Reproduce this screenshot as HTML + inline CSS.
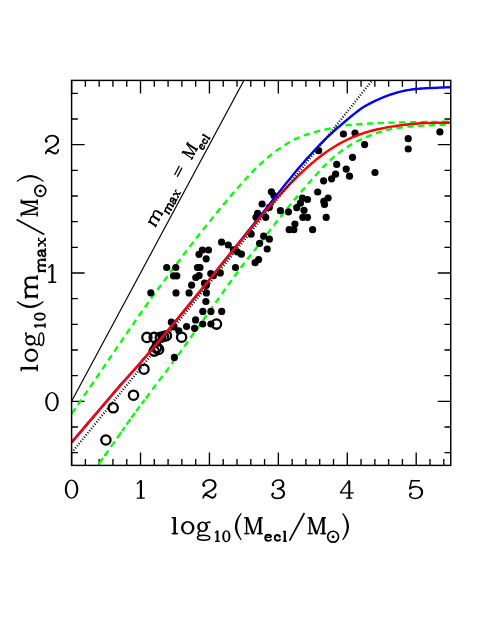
<!DOCTYPE html><html><head><meta charset="utf-8"><style>html,body{margin:0;padding:0;background:#fff}body{width:491px;height:635px;overflow:hidden;font-family:"Liberation Serif",serif}</style></head><body><svg width="491" height="635" viewBox="0 0 491 635" style="display:block">
<rect width="491" height="635" fill="#fff"/>
<defs><clipPath id="c"><rect x="71.6" y="80.4" width="379.15" height="385.0"/></clipPath></defs>
<path d="M71.60,465.4v-13.0M71.60,80.4v13.0M85.38,465.4v-6.3M85.38,80.4v6.3M99.17,465.4v-6.3M99.17,80.4v6.3M112.95,465.4v-6.3M112.95,80.4v6.3M126.74,465.4v-6.3M126.74,80.4v6.3M140.52,465.4v-13.0M140.52,80.4v13.0M154.30,465.4v-6.3M154.30,80.4v6.3M168.09,465.4v-6.3M168.09,80.4v6.3M181.87,465.4v-6.3M181.87,80.4v6.3M195.66,465.4v-6.3M195.66,80.4v6.3M209.44,465.4v-13.0M209.44,80.4v13.0M223.22,465.4v-6.3M223.22,80.4v6.3M237.01,465.4v-6.3M237.01,80.4v6.3M250.79,465.4v-6.3M250.79,80.4v6.3M264.58,465.4v-6.3M264.58,80.4v6.3M278.36,465.4v-13.0M278.36,80.4v13.0M292.14,465.4v-6.3M292.14,80.4v6.3M305.93,465.4v-6.3M305.93,80.4v6.3M319.71,465.4v-6.3M319.71,80.4v6.3M333.50,465.4v-6.3M333.50,80.4v6.3M347.28,465.4v-13.0M347.28,80.4v13.0M361.06,465.4v-6.3M361.06,80.4v6.3M374.85,465.4v-6.3M374.85,80.4v6.3M388.63,465.4v-6.3M388.63,80.4v6.3M402.42,465.4v-6.3M402.42,80.4v6.3M416.20,465.4v-13.0M416.20,80.4v13.0M429.98,465.4v-6.3M429.98,80.4v6.3M443.77,465.4v-6.3M443.77,80.4v6.3M71.6,452.63h6.3M450.75,452.63h-6.3M71.6,426.97h6.3M450.75,426.97h-6.3M71.6,401.30h13.0M450.75,401.30h-13.0M71.6,375.63h6.3M450.75,375.63h-6.3M71.6,349.97h6.3M450.75,349.97h-6.3M71.6,324.30h6.3M450.75,324.30h-6.3M71.6,298.64h6.3M450.75,298.64h-6.3M71.6,272.97h13.0M450.75,272.97h-13.0M71.6,247.30h6.3M450.75,247.30h-6.3M71.6,221.64h6.3M450.75,221.64h-6.3M71.6,195.97h6.3M450.75,195.97h-6.3M71.6,170.31h6.3M450.75,170.31h-6.3M71.6,144.64h13.0M450.75,144.64h-13.0M71.6,118.97h6.3M450.75,118.97h-6.3M71.6,93.31h6.3M450.75,93.31h-6.3" stroke="#000" stroke-width="1.35" fill="none"/>
<g clip-path="url(#c)" fill="none">
<path d="M71.70,413.60 L73.70,410.74 L75.70,407.87 L77.70,404.99 L79.70,402.12 L81.70,399.24 L83.70,396.35 L85.70,393.46 L87.70,390.57 L89.70,387.67 L91.70,384.76 L93.70,381.85 L95.70,378.93 L97.70,376.00 L99.70,373.06 L101.70,370.11 L103.70,367.15 L105.70,364.18 L107.70,361.22 L109.70,358.26 L111.70,355.29 L113.70,352.34 L115.70,349.39 L117.70,346.45 L119.70,343.52 L121.70,340.60 L123.70,337.70 L125.70,334.81 L127.70,331.93 L129.70,329.06 L131.70,326.18 L133.70,323.32 L135.70,320.45 L137.70,317.60 L139.70,314.75 L141.70,311.90 L143.70,309.07 L145.70,306.24 L147.70,303.43 L149.70,300.62 L151.70,297.83 L153.70,295.05 L155.70,292.28 L157.70,289.52 L159.70,286.78 L161.70,284.05 L163.70,281.32 L165.70,278.61 L167.70,275.90 L169.70,273.20 L171.70,270.51 L173.70,267.83 L175.70,265.16 L177.70,262.49 L179.70,259.84 L181.70,257.19 L183.70,254.56 L185.70,251.93 L187.70,249.32 L189.70,246.72 L191.70,244.13 L193.70,241.55 L195.70,238.99 L197.70,236.44 L199.70,233.90 L201.70,231.38 L203.70,228.87 L205.70,226.37 L207.70,223.87 L209.70,221.39 L211.70,218.91 L213.70,216.44 L215.70,213.98 L217.70,211.53 L219.70,209.10 L221.70,206.68 L223.70,204.27 L225.70,201.89 L227.70,199.52 L229.70,197.17 L231.70,194.84 L233.70,192.53 L235.70,190.24 L237.70,187.97 L239.70,185.73 L241.70,183.51 L243.70,181.29 L245.70,179.07 L247.70,176.88 L249.70,174.72 L251.70,172.59 L253.70,170.51 L255.70,168.49 L257.70,166.53 L259.70,164.64 L261.70,162.82 L263.70,161.04 L265.70,159.28 L267.70,157.57 L269.70,155.89 L271.70,154.27 L273.70,152.70 L275.70,151.19 L277.70,149.74 L279.70,148.36 L281.70,147.05 L283.70,145.77 L285.70,144.51 L287.70,143.29 L289.70,142.11 L291.70,140.98 L293.70,139.90 L295.70,138.88 L297.70,137.94 L299.70,137.06 L301.70,136.27 L303.70,135.53 L305.70,134.84 L307.70,134.19 L309.70,133.57 L311.70,132.98 L313.70,132.42 L315.70,131.88 L317.70,131.36 L319.70,130.85 L321.70,130.35 L323.70,129.88 L325.70,129.44 L327.70,129.01 L329.70,128.60 L331.70,128.18 L333.70,127.74 L335.70,127.28 L337.70,126.83 L339.70,126.41 L341.70,126.03 L343.70,125.73 L345.70,125.47 L347.70,125.23 L349.70,125.01 L351.70,124.81 L353.70,124.63 L355.70,124.46 L357.70,124.31 L359.70,124.16 L361.70,124.02 L363.70,123.88 L365.70,123.75 L367.70,123.63 L369.70,123.51 L371.70,123.40 L373.70,123.29 L375.70,123.19 L377.70,123.10 L379.70,123.02 L381.70,122.94 L383.70,122.88 L385.70,122.82 L387.70,122.76 L389.70,122.71 L391.70,122.66 L393.70,122.62 L395.70,122.57 L397.70,122.53 L399.70,122.49 L401.70,122.45 L403.70,122.41 L405.70,122.37 L407.70,122.33 L409.70,122.29 L411.70,122.25 L413.70,122.21 L415.70,122.16 L417.70,122.12 L419.70,122.08 L421.70,122.04 L423.70,122.00 L425.70,121.96 L427.70,121.93 L429.70,121.90 L431.70,121.88 L433.70,121.85 L435.70,121.83 L437.70,121.81 L439.70,121.79 L441.70,121.77 L443.70,121.75 L445.70,121.73 L447.70,121.72 L449.70,121.71 L450.80,121.70" stroke="#00ff00" stroke-width="2.3" stroke-dasharray="6.3 4.45"/>
<path d="M98.10,464.90 L100.10,462.09 L102.10,459.29 L104.10,456.48 L106.10,453.66 L108.10,450.85 L110.10,448.02 L112.10,445.19 L114.10,442.35 L116.10,439.49 L118.10,436.63 L120.10,433.77 L122.10,430.92 L124.10,428.07 L126.10,425.24 L128.10,422.42 L130.10,419.63 L132.10,416.87 L134.10,414.12 L136.10,411.39 L138.10,408.67 L140.10,405.97 L142.10,403.27 L144.10,400.58 L146.10,397.90 L148.10,395.22 L150.10,392.54 L152.10,389.86 L154.10,387.20 L156.10,384.55 L158.10,381.91 L160.10,379.27 L162.10,376.63 L164.10,373.99 L166.10,371.34 L168.10,368.68 L170.10,365.99 L172.10,363.29 L174.10,360.56 L176.10,357.82 L178.10,355.07 L180.10,352.30 L182.10,349.53 L184.10,346.74 L186.10,343.95 L188.10,341.16 L190.10,338.36 L192.10,335.56 L194.10,332.75 L196.10,329.95 L198.10,327.15 L200.10,324.36 L202.10,321.57 L204.10,318.78 L206.10,315.99 L208.10,313.19 L210.10,310.38 L212.10,307.57 L214.10,304.75 L216.10,301.92 L218.10,299.10 L220.10,296.28 L222.10,293.46 L224.10,290.65 L226.10,287.85 L228.10,285.06 L230.10,282.28 L232.10,279.51 L234.10,276.77 L236.10,274.04 L238.10,271.34 L240.10,268.66 L242.10,266.01 L244.10,263.40 L246.10,260.82 L248.10,258.28 L250.10,255.75 L252.10,253.22 L254.10,250.70 L256.10,248.15 L258.10,245.59 L260.10,243.01 L262.10,240.43 L264.10,237.84 L266.10,235.26 L268.10,232.68 L270.10,230.11 L272.10,227.55 L274.10,224.98 L276.10,222.42 L278.10,219.88 L280.10,217.35 L282.10,214.85 L284.10,212.35 L286.10,209.85 L288.10,207.37 L290.10,204.91 L292.10,202.47 L294.10,200.05 L296.10,197.66 L298.10,195.31 L300.10,193.02 L302.10,190.76 L304.10,188.51 L306.10,186.23 L308.10,183.91 L310.10,181.56 L312.10,179.22 L314.10,176.94 L316.10,174.72 L318.10,172.54 L320.10,170.41 L322.10,168.32 L324.10,166.26 L326.10,164.22 L328.10,162.24 L330.10,160.35 L332.10,158.56 L334.10,156.85 L336.10,155.20 L338.10,153.62 L340.10,152.09 L342.10,150.60 L344.10,149.17 L346.10,147.80 L348.10,146.48 L350.10,145.21 L352.10,143.99 L354.10,142.84 L356.10,141.78 L358.10,140.78 L360.10,139.84 L362.10,138.93 L364.10,138.05 L366.10,137.18 L368.10,136.35 L370.10,135.56 L372.10,134.78 L374.10,134.01 L376.10,133.25 L378.10,132.53 L380.10,131.85 L382.10,131.25 L384.10,130.71 L386.10,130.21 L388.10,129.75 L390.10,129.31 L392.10,128.91 L394.10,128.54 L396.10,128.22 L398.10,127.92 L400.10,127.64 L402.10,127.38 L404.10,127.15 L406.10,126.93 L408.10,126.72 L410.10,126.54 L412.10,126.36 L414.10,126.19 L416.10,126.03 L418.10,125.88 L420.10,125.75 L422.10,125.63 L424.10,125.53 L426.10,125.45 L428.10,125.37 L430.10,125.30 L432.10,125.23 L434.10,125.17 L436.10,125.10 L438.10,125.03 L440.10,124.96 L442.10,124.89 L444.10,124.82 L446.10,124.75 L448.10,124.69 L450.10,124.62 L450.80,124.60" stroke="#00ff00" stroke-width="2.3" stroke-dasharray="8.3 2.6 6.8 4.4 6.8 3.8 7.5 1.5 4.6 3.0 6.7 1.7 6.0 2.2 6.1 2.9 5.3 1.8 6.3 4.45 6.3 4.45 6.3 4.45 6.3 4.45 6.3 4.45 6.3 4.45 6.3 4.45 6.3 4.45 6.3 4.45 6.3 4.45 6.3 4.45 6.3 4.45 6.3 4.45 6.3 4.45 6.3 4.45 6.3 4.45 6.3 4.45 6.3 4.45 6.3 4.45 6.3 4.45 6.3 4.45 6.3 4.45 6.3 4.45 6.3 4.45 6.3 4.45 6.3 4.45 6.3 4.45 6.3 4.45 6.3 4.45 6.3 4.45 6.3 4.45 6.3 4.45 6.3 4.45 6.3 4.45 6.3 4.45 6.3 4.45 6.3 4.45 6.3 4.45 6.3 4.45 6.3 4.45 6.3 4.45 6.3 4.45 6.3 4.45 6.3 4.45 6.3 4.45 6.3 4.45 6.3 4.45 6.3 4.45 6.3 4.45 6.3 4.45 6.3 4.45 6.3 4.45 6.3 4.45 6.3 4.45 6.3 4.45 6.3 4.45 6.3 4.45 6.3 4.45 6.3 4.45 6.3 4.45"/>
<circle cx="150.8" cy="292.8" r="3.6" fill="#000"/>
<circle cx="166.7" cy="267.5" r="3.6" fill="#000"/>
<circle cx="175.8" cy="267.5" r="3.6" fill="#000"/>
<circle cx="173.5" cy="275.8" r="3.6" fill="#000"/>
<circle cx="176.8" cy="275.8" r="3.6" fill="#000"/>
<circle cx="176" cy="292.9" r="3.6" fill="#000"/>
<circle cx="189.1" cy="292.9" r="3.6" fill="#000"/>
<circle cx="191.6" cy="285.1" r="3.6" fill="#000"/>
<circle cx="195.8" cy="277.5" r="3.6" fill="#000"/>
<circle cx="199.1" cy="275.6" r="3.6" fill="#000"/>
<circle cx="197.5" cy="267.5" r="3.6" fill="#000"/>
<circle cx="200" cy="267.5" r="3.6" fill="#000"/>
<circle cx="199" cy="254.3" r="3.6" fill="#000"/>
<circle cx="202.4" cy="250" r="3.6" fill="#000"/>
<circle cx="208.5" cy="250" r="3.6" fill="#000"/>
<circle cx="206.2" cy="258.8" r="3.6" fill="#000"/>
<circle cx="204.5" cy="283.2" r="3.6" fill="#000"/>
<circle cx="206.4" cy="285.3" r="3.6" fill="#000"/>
<circle cx="210.8" cy="273.6" r="3.6" fill="#000"/>
<circle cx="213.4" cy="275.7" r="3.6" fill="#000"/>
<circle cx="220.3" cy="272.9" r="3.6" fill="#000"/>
<circle cx="221.6" cy="242.2" r="3.6" fill="#000"/>
<circle cx="228.3" cy="245" r="3.6" fill="#000"/>
<circle cx="233.3" cy="249.8" r="3.6" fill="#000"/>
<circle cx="237.4" cy="252" r="3.6" fill="#000"/>
<circle cx="241.4" cy="254.2" r="3.6" fill="#000"/>
<circle cx="235.5" cy="267.5" r="3.6" fill="#000"/>
<circle cx="206.4" cy="292.9" r="3.6" fill="#000"/>
<circle cx="205.9" cy="301.5" r="3.6" fill="#000"/>
<circle cx="202.8" cy="311.4" r="3.6" fill="#000"/>
<circle cx="210.9" cy="311.4" r="3.6" fill="#000"/>
<circle cx="221.7" cy="311.4" r="3.6" fill="#000"/>
<circle cx="195.6" cy="319.9" r="3.6" fill="#000"/>
<circle cx="202.7" cy="324" r="3.6" fill="#000"/>
<circle cx="210.9" cy="324" r="3.6" fill="#000"/>
<circle cx="186.6" cy="326.5" r="3.6" fill="#000"/>
<circle cx="194.6" cy="328.3" r="3.6" fill="#000"/>
<circle cx="171.4" cy="322.2" r="3.6" fill="#000"/>
<circle cx="174" cy="327" r="3.6" fill="#000"/>
<circle cx="178.8" cy="330.8" r="3.6" fill="#000"/>
<circle cx="174.4" cy="357.4" r="3.6" fill="#000"/>
<circle cx="163" cy="335" r="3.6" fill="#000"/>
<circle cx="155.8" cy="343.7" r="3.6" fill="#000"/>
<circle cx="271.4" cy="191.8" r="3.6" fill="#000"/>
<circle cx="273.9" cy="195.5" r="3.6" fill="#000"/>
<circle cx="262.1" cy="204" r="3.6" fill="#000"/>
<circle cx="269.4" cy="207.3" r="3.6" fill="#000"/>
<circle cx="257.6" cy="213.4" r="3.6" fill="#000"/>
<circle cx="256" cy="217.3" r="3.6" fill="#000"/>
<circle cx="265.7" cy="217.3" r="3.6" fill="#000"/>
<circle cx="280.4" cy="210.7" r="3.6" fill="#000"/>
<circle cx="288.5" cy="211.8" r="3.6" fill="#000"/>
<circle cx="296.7" cy="207.7" r="3.6" fill="#000"/>
<circle cx="300.4" cy="203.2" r="3.6" fill="#000"/>
<circle cx="302.4" cy="198.1" r="3.6" fill="#000"/>
<circle cx="307.5" cy="199.5" r="3.6" fill="#000"/>
<circle cx="304" cy="210.3" r="3.6" fill="#000"/>
<circle cx="302.8" cy="217.3" r="3.6" fill="#000"/>
<circle cx="307.5" cy="217.3" r="3.6" fill="#000"/>
<circle cx="317.7" cy="192" r="3.6" fill="#000"/>
<circle cx="323.6" cy="180.8" r="3.6" fill="#000"/>
<circle cx="323.8" cy="201.4" r="3.6" fill="#000"/>
<circle cx="324.5" cy="204.4" r="3.6" fill="#000"/>
<circle cx="326.2" cy="217.4" r="3.6" fill="#000"/>
<circle cx="294.9" cy="224" r="3.6" fill="#000"/>
<circle cx="289.2" cy="229.7" r="3.6" fill="#000"/>
<circle cx="293.8" cy="229.7" r="3.6" fill="#000"/>
<circle cx="312.6" cy="229.7" r="3.6" fill="#000"/>
<circle cx="251.1" cy="234.2" r="3.6" fill="#000"/>
<circle cx="263.7" cy="236.2" r="3.6" fill="#000"/>
<circle cx="269.4" cy="239.2" r="3.6" fill="#000"/>
<circle cx="259.6" cy="243.3" r="3.6" fill="#000"/>
<circle cx="267.2" cy="249" r="3.6" fill="#000"/>
<circle cx="258.6" cy="259.6" r="3.6" fill="#000"/>
<circle cx="255.1" cy="262.7" r="3.6" fill="#000"/>
<circle cx="343.4" cy="134" r="3.6" fill="#000"/>
<circle cx="355" cy="133" r="3.6" fill="#000"/>
<circle cx="364.6" cy="144.6" r="3.6" fill="#000"/>
<circle cx="318.7" cy="150.7" r="3.6" fill="#000"/>
<circle cx="352.5" cy="157.3" r="3.6" fill="#000"/>
<circle cx="336.7" cy="164.4" r="3.6" fill="#000"/>
<circle cx="346.2" cy="169.1" r="3.6" fill="#000"/>
<circle cx="375" cy="172.5" r="3.6" fill="#000"/>
<circle cx="335.6" cy="174.2" r="3.6" fill="#000"/>
<circle cx="349.5" cy="176.2" r="3.6" fill="#000"/>
<circle cx="331.6" cy="178.8" r="3.6" fill="#000"/>
<circle cx="328.1" cy="198" r="3.6" fill="#000"/>
<circle cx="408.2" cy="138.7" r="3.6" fill="#000"/>
<circle cx="408.2" cy="149" r="3.6" fill="#000"/>
<circle cx="439.9" cy="131.9" r="3.6" fill="#000"/>
<circle cx="162.5" cy="336.3" r="3.6" fill="#000"/>
<circle cx="105.9" cy="440" r="4.65" stroke="#000" stroke-width="2.3"/>
<circle cx="113.2" cy="407.8" r="4.65" stroke="#000" stroke-width="2.3"/>
<circle cx="133.5" cy="395.2" r="4.65" stroke="#000" stroke-width="2.3"/>
<circle cx="144" cy="369.2" r="4.65" stroke="#000" stroke-width="2.3"/>
<circle cx="146.9" cy="337.4" r="4.65" stroke="#000" stroke-width="2.3"/>
<circle cx="154.2" cy="337.4" r="4.65" stroke="#000" stroke-width="2.3"/>
<circle cx="160.3" cy="337.4" r="4.65" stroke="#000" stroke-width="2.3"/>
<circle cx="166.4" cy="335.7" r="4.65" stroke="#000" stroke-width="2.3"/>
<circle cx="181.6" cy="337.2" r="4.65" stroke="#000" stroke-width="2.3"/>
<circle cx="158.6" cy="349.4" r="4.65" stroke="#000" stroke-width="2.3"/>
<circle cx="154.2" cy="351.1" r="4.65" stroke="#000" stroke-width="2.3"/>
<circle cx="216.5" cy="324.1" r="4.65" stroke="#000" stroke-width="2.3"/>
<circle cx="163.5" cy="336.5" r="4.65" stroke="#000" stroke-width="2.3"/>
<circle cx="156.6" cy="347.6" r="4.65" stroke="#000" stroke-width="2.3"/>
<path d="M71.60,401.30 L250.79,67.64" stroke="#000" stroke-width="1.15"/>
<path d="M71.60,442.40 L73.60,440.05 L75.60,437.71 L77.60,435.36 L79.60,433.02 L81.60,430.67 L83.60,428.33 L85.60,425.98 L87.60,423.64 L89.60,421.29 L91.60,418.95 L93.60,416.60 L95.60,414.26 L97.60,411.91 L99.60,409.57 L101.60,407.22 L103.60,404.88 L105.60,402.53 L107.60,400.19 L109.60,397.84 L111.60,395.50 L113.60,393.15 L115.60,390.81 L117.60,388.46 L119.60,386.12 L121.60,383.77 L123.60,381.66 L125.60,379.45 L127.60,377.23 L129.60,375.00 L131.60,372.75 L133.60,370.50 L135.60,368.23 L137.60,365.96 L139.60,363.67 L141.60,361.38 L143.60,359.08 L145.60,356.76 L147.60,354.44 L149.60,352.11 L151.60,349.77 L153.60,347.42 L155.60,345.07 L157.60,342.71 L159.60,340.33 L161.60,337.96 L163.60,335.57 L165.60,333.18 L167.60,330.78 L169.60,328.38 L171.60,325.97 L173.60,323.55 L175.60,321.12 L177.60,318.70 L179.60,316.26 L181.60,313.82 L183.60,311.38 L185.60,308.92 L187.60,306.47 L189.60,304.01 L191.60,301.55 L193.60,299.08 L195.60,296.61 L197.60,294.13 L199.60,291.65 L201.60,289.17 L203.60,286.68 L205.60,284.19 L207.60,281.70 L209.60,279.21 L211.60,276.71 L213.60,274.21 L215.60,271.71 L217.60,269.21 L219.60,266.71 L221.60,264.21 L223.60,261.70 L225.60,259.20 L227.60,256.69 L229.60,254.19 L231.60,251.69 L233.60,249.18 L235.60,246.68 L237.60,244.18 L239.60,241.68 L241.60,239.18 L243.60,236.69 L245.60,234.20 L247.60,231.72 L249.60,229.23 L251.60,226.73 L253.60,224.21 L255.60,221.70 L257.60,219.18 L259.60,216.67 L261.60,214.16 L263.60,211.65 L265.60,209.14 L267.60,206.63 L269.60,204.13 L271.60,201.62 L273.60,199.12 L275.60,196.61 L277.60,194.11 L279.60,191.61 L281.60,189.11 L283.60,186.61 L285.60,184.12 L287.60,181.62 L289.60,179.13 L291.60,176.64 L293.60,174.15 L295.60,171.70 L297.60,169.36 L299.60,167.03 L301.60,164.72 L303.60,162.43 L305.60,160.16 L307.60,157.91 L309.60,155.68 L311.60,153.47 L313.60,151.29 L315.60,149.14 L317.60,147.01 L319.60,144.91 L321.60,142.84 L323.60,140.84 L325.60,138.88 L327.60,136.97 L329.60,135.10 L331.60,133.26 L333.60,131.46 L335.60,129.68 L337.60,127.93 L339.60,126.19 L341.60,124.45 L343.60,122.72 L345.60,120.99 L347.60,119.29 L349.60,117.63 L351.60,116.01 L353.60,114.42 L355.60,112.84 L357.60,111.29 L359.60,109.79 L361.60,108.36 L363.60,107.05 L365.60,105.84 L367.60,104.71 L369.60,103.63 L371.60,102.59 L373.60,101.61 L375.60,100.65 L377.60,99.74 L379.60,98.84 L381.60,98.00 L383.60,97.20 L385.60,96.40 L387.60,95.68 L389.60,94.95 L391.60,94.26 L393.60,93.63 L395.60,92.99 L397.60,92.40 L399.60,91.87 L401.60,91.34 L403.60,90.86 L405.60,90.47 L407.60,90.14 L409.60,89.83 L411.60,89.53 L413.60,89.24 L415.60,89.06 L417.60,88.89 L419.60,88.70 L421.60,88.51 L423.60,88.34 L425.60,88.18 L427.60,88.09 L429.60,88.05 L431.60,88.00 L433.60,87.93 L435.60,87.85 L437.60,87.76 L439.60,87.66 L441.60,87.56 L443.60,87.46 L445.60,87.34 L447.60,87.22 L450.75,87.24" stroke="#0000ff" stroke-width="2.4"/>
<path d="M71.60,442.40 L73.60,440.05 L75.60,437.71 L77.60,435.36 L79.60,433.02 L81.60,430.67 L83.60,428.33 L85.60,425.98 L87.60,423.64 L89.60,421.29 L91.60,418.95 L93.60,416.60 L95.60,414.26 L97.60,411.91 L99.60,409.57 L101.60,407.22 L103.60,404.88 L105.60,402.53 L107.60,400.19 L109.60,397.84 L111.60,395.50 L113.60,393.15 L115.60,390.81 L117.60,388.46 L119.60,386.12 L121.60,383.77 L123.60,381.68 L125.60,379.47 L127.60,377.25 L129.60,375.02 L131.60,372.78 L133.60,370.53 L135.60,368.26 L137.60,365.99 L139.60,363.71 L141.60,361.41 L143.60,359.11 L145.60,356.80 L147.60,354.48 L149.60,352.15 L151.60,349.82 L153.60,347.47 L155.60,345.12 L157.60,342.76 L159.60,340.40 L161.60,338.02 L163.60,335.64 L165.60,333.25 L167.60,330.86 L169.60,328.46 L171.60,326.05 L173.60,323.64 L175.60,321.22 L177.60,318.80 L179.60,316.37 L181.60,313.94 L183.60,311.50 L185.60,309.06 L187.60,306.61 L189.60,304.16 L191.60,301.71 L193.60,299.25 L195.60,296.79 L197.60,294.32 L199.60,291.86 L201.60,289.39 L203.60,286.91 L205.60,284.44 L207.60,281.97 L209.60,279.49 L211.60,277.01 L213.60,274.53 L215.60,272.05 L217.60,269.57 L219.60,267.09 L221.60,264.61 L223.60,262.14 L225.60,259.66 L227.60,257.18 L229.60,254.71 L231.60,252.24 L233.60,249.77 L235.60,247.31 L237.60,244.85 L239.60,242.39 L241.60,239.94 L243.60,237.49 L245.60,235.06 L247.60,232.62 L249.60,230.20 L251.60,227.78 L253.60,225.37 L255.60,222.97 L257.60,220.59 L259.60,218.21 L261.60,215.84 L263.60,213.49 L265.60,211.15 L267.60,208.83 L269.60,206.52 L271.60,204.22 L273.60,201.95 L275.60,199.69 L277.60,197.45 L279.60,195.24 L281.60,193.04 L283.60,190.87 L285.60,188.72 L287.60,186.60 L289.60,184.50 L291.60,182.43 L293.60,180.39 L295.60,178.38 L297.60,176.40 L299.60,174.46 L301.60,172.54 L303.60,170.66 L305.60,168.82 L307.60,167.01 L309.60,165.24 L311.60,163.51 L313.60,161.82 L315.60,160.16 L317.60,158.55 L319.60,156.98 L321.60,155.45 L323.60,153.96 L325.60,152.52 L327.60,151.13 L329.60,149.77 L331.60,148.45 L333.60,147.19 L335.60,145.97 L337.60,144.78 L339.60,143.64 L341.60,142.55 L343.60,141.48 L345.60,140.49 L347.60,139.51 L349.60,138.59 L351.60,137.69 L353.60,136.85 L355.60,136.02 L357.60,135.26 L359.60,134.50 L361.60,133.81 L363.60,133.14 L365.60,132.48 L367.60,131.90 L369.60,131.32 L371.60,130.74 L373.60,130.26 L375.60,129.77 L377.60,129.29 L379.60,128.84 L381.60,128.45 L383.60,128.06 L385.60,127.66 L387.60,127.26 L389.60,126.93 L391.60,126.63 L393.60,126.32 L395.60,126.01 L397.60,125.70 L399.60,125.39 L401.60,125.11 L403.60,124.91 L405.60,124.70 L407.60,124.50 L409.60,124.30 L411.60,124.09 L413.60,123.89 L415.60,123.69 L417.60,123.50 L419.60,123.31 L421.60,123.12 L423.60,123.02 L425.60,122.98 L427.60,122.95 L429.60,122.92 L431.60,122.90 L433.60,122.87 L435.60,122.85 L437.60,122.83 L439.60,122.80 L441.60,122.78 L443.60,122.75 L445.60,122.73 L447.60,122.71 L450.75,122.67" stroke="#ff0000" stroke-width="2.4"/>
<path d="M71.70,452.60 L74.70,448.94 L77.70,445.27 L80.70,441.61 L83.70,437.94 L86.70,434.27 L89.70,430.61 L92.70,426.94 L95.70,423.27 L98.70,419.59 L101.70,415.92 L104.70,412.25 L107.70,408.57 L110.70,404.90 L113.70,401.22 L116.70,397.54 L119.70,393.86 L122.70,390.18 L125.70,386.50 L128.70,382.82 L131.70,379.14 L134.70,375.45 L137.70,371.77 L140.70,368.08 L143.70,364.39 L146.70,360.70 L149.70,357.01 L152.70,353.32 L155.70,349.63 L158.70,345.94 L161.70,342.24 L164.70,338.55 L167.70,334.85 L170.70,331.15 L173.70,327.45 L176.70,323.75 L179.70,320.05 L182.70,316.35 L185.70,312.65 L188.70,308.95 L191.70,305.24 L194.70,301.53 L197.70,297.83 L200.70,294.12 L203.70,290.41 L206.70,286.70 L209.70,282.99 L212.70,279.27 L215.70,275.56 L218.70,271.85 L221.70,268.13 L224.70,264.41 L227.70,260.70 L230.70,256.98 L233.70,253.26 L236.70,249.53 L239.70,245.81 L242.70,242.09 L245.70,238.36 L248.70,234.64 L251.70,230.91 L254.70,227.18 L257.70,223.46 L260.70,219.73 L263.70,215.99 L266.70,212.26 L269.70,208.53 L272.70,204.80 L275.70,201.06 L278.70,197.32 L281.70,193.59 L284.70,189.85 L287.70,186.11 L290.70,182.37 L293.70,178.63 L296.70,174.88 L299.70,171.14 L302.70,167.39 L305.70,163.65 L308.70,159.90 L311.70,156.15 L314.70,152.40 L317.70,148.65 L320.70,144.90 L323.70,141.15 L326.70,137.39 L329.70,133.64 L332.70,129.88 L335.70,126.13 L338.70,122.37 L341.70,118.61 L344.70,114.85 L347.70,111.09 L350.70,107.33 L353.70,103.56 L356.70,99.80 L359.70,96.03 L362.70,92.27 L365.70,88.50 L368.70,84.73 L371.70,80.96 L374.70,77.19 L377.70,73.42 L380.70,69.64" stroke="#000" stroke-width="2.3" stroke-dasharray="0.95 1.85"/>
</g>
<rect x="71.6" y="80.4" width="379.15" height="385.0" fill="none" stroke="#000" stroke-width="1.45"/>
<g transform="translate(71.60,474.00) scale(0.08143) translate(-241.9,0)" fill="none" stroke="#000"><path fill-rule="evenodd" d="M158,186.5a83.5,118.5 0 1,0 167,0a83.5,118.5 0 1,0 -167,0zM184,186.5a57.5,103.5 0 1,1 115,0a57.5,103.5 0 1,1 -115,0z" fill="#000" stroke="none"/></g>
<g transform="translate(140.52,474.00) scale(0.08143) translate(-253.3,0)" fill="none" stroke="#000"><path d="M258,76V297" stroke-width="27"/><path d="M256,80L210,122M208,297H305" stroke-width="16"/></g>
<g transform="translate(209.44,474.00) scale(0.08143) translate(-178.8,0)" fill="none" stroke="#000"><circle cx="112" cy="138" r="15" fill="#000" stroke="none"/><path d="M110,150C98,138 100,118 112,104C132,78 175,66 215,77C250,88 264,125 251,160C240,190 200,205 165,222C130,240 107,260 101,292C108,268 120,257 140,257C165,257 185,286 215,290C240,292 252,270 256,246" stroke-width="20" stroke-linecap="round" stroke-linejoin="round"/><path d="M214,84C244,96 254,126 243,157C238,171 226,183 208,194M135,263C162,263 186,290 214,296" stroke-width="16" stroke-linecap="round"/></g>
<g transform="translate(278.36,474.00) scale(0.08143) translate(-251.6,0)" fill="none" stroke="#000"><circle cx="187" cy="134" r="15" fill="#000" stroke="none"/><circle cx="186" cy="243" r="15" fill="#000" stroke="none"/><path d="M180,124C195,90 225,74 258,74C295,74 318,96 316,128C314,160 290,178 240,181C300,184 327,210 325,240C322,278 290,300 245,300C205,300 178,282 173,252" stroke-width="20" stroke-linecap="round" stroke-linejoin="round"/><path d="M286,84C306,98 312,128 300,150C294,160 284,168 272,172M292,196C314,212 322,244 308,268C302,278 292,286 280,291" stroke-width="16" stroke-linecap="round"/></g>
<g transform="translate(347.28,474.00) scale(0.08143) translate(-250.8,0)" fill="none" stroke="#000"><path d="M275,80V297" stroke-width="25"/><path d="M273,80L166,230M160,232H330M235,297H312" stroke-width="16"/></g>
<g transform="translate(416.20,474.00) scale(0.08143) translate(-249.9,0)" fill="none" stroke="#000"><circle cx="184" cy="243" r="15" fill="#000" stroke="none"/><path d="M188,83H296" stroke-width="19"/><path d="M192,80L170,182C195,160 225,153 255,156C300,161 328,190 326,228C324,270 290,300 240,300C200,300 172,282 169,255" stroke-width="19" stroke-linecap="round" stroke-linejoin="round"/><path d="M290,172C312,190 322,224 312,252C306,268 296,280 282,288" stroke-width="16" stroke-linecap="round"/></g>
<g transform="translate(52.00,386.40) scale(0.08143) translate(-241.9,0)" fill="none" stroke="#000"><path fill-rule="evenodd" d="M158,186.5a83.5,118.5 0 1,0 167,0a83.5,118.5 0 1,0 -167,0zM184,186.5a57.5,103.5 0 1,1 115,0a57.5,103.5 0 1,1 -115,0z" fill="#000" stroke="none"/></g>
<g transform="translate(52.00,258.07) scale(0.08143) translate(-253.3,0)" fill="none" stroke="#000"><path d="M258,76V297" stroke-width="27"/><path d="M256,80L210,122M208,297H305" stroke-width="16"/></g>
<g transform="translate(52.00,129.74) scale(0.08143) translate(-178.8,0)" fill="none" stroke="#000"><circle cx="112" cy="138" r="15" fill="#000" stroke="none"/><path d="M110,150C98,138 100,118 112,104C132,78 175,66 215,77C250,88 264,125 251,160C240,190 200,205 165,222C130,240 107,260 101,292C108,268 120,257 140,257C165,257 185,286 215,290C240,292 252,270 256,246" stroke-width="20" stroke-linecap="round" stroke-linejoin="round"/><path d="M214,84C244,96 254,126 243,157C238,171 226,183 208,194M135,263C162,263 186,290 214,296" stroke-width="16" stroke-linecap="round"/></g>
<g id="xl" transform="translate(171.7,534.3)">
<g transform="translate(0.00,0.00)"><rect x="1.75" y="-17.30" width="2.50" height="17.30"/><rect x="0.00" y="-17.30" width="3.00" height="1.40"/><rect x="0.00" y="-1.40" width="6.40" height="1.40"/></g>
<g transform="translate(9.20,0.00)"><path fill-rule="evenodd" d="M0.00,-6.55a6.80,6.75 0 1,0 13.60,0a6.80,6.75 0 1,0 -13.60,0zM2.50,-6.55a4.30,5.35 0 1,0 8.60,0a4.30,5.35 0 1,0 -8.60,0z"/></g>
<g transform="translate(25.50,0.00)"><path fill-rule="evenodd" d="M0.00,-7.50a5.40,5.20 0 1,0 10.80,0a5.40,5.20 0 1,0 -10.80,0zM2.50,-7.50a2.90,3.80 0 1,0 5.80,0a2.90,3.80 0 1,0 -5.80,0z"/><path d="M9.20,-11.00Q10.60,-12.60 12.40,-12.20" fill="none" stroke="#000" stroke-width="1.40" stroke-linecap="round" stroke-linejoin="round"/><circle cx="12.50" cy="-11.90" r="0.85"/><path d="M2.60,-3.20C0.40,-1.80 0.40,0.20 2.40,0.90" fill="none" stroke="#000" stroke-width="1.40" stroke-linecap="round" stroke-linejoin="round"/><path d="M0.20,3.35a6.20,2.50 0 1,0 12.40,0a6.20,2.50 0 1,0 -12.40,0z" fill="none" stroke="#000" stroke-width="1.54" stroke-linecap="round" stroke-linejoin="round"/></g>
<g transform="translate(43.20,7.70)"><rect x="1.58" y="-11.40" width="2.00" height="11.40"/><path d="M2.58,-11.10L0.18,-9.18" fill="none" stroke="#000" stroke-width="1.25" stroke-linecap="butt"/><rect x="0.12" y="-1.25" width="4.80" height="1.25"/></g>
<g transform="translate(50.50,7.70)"><path fill-rule="evenodd" d="M0.00,-5.79a4.15,5.92 0 1,0 8.30,0a4.15,5.92 0 1,0 -8.30,0zM2.00,-5.79a2.15,4.67 0 1,0 4.30,0a2.15,4.67 0 1,0 -4.30,0z"/></g>
<g transform="translate(63.20,0.00)"><path d="M6.00,-21.30Q-6.00,-7.70 6.00,5.90L6.90,5.40Q-2.20,-7.70 6.90,-20.80z"/></g>
<g transform="translate(72.50,0.00)"><rect x="1.70" y="-17.20" width="1.40" height="17.20"/><rect x="14.65" y="-17.20" width="2.50" height="17.20"/><path d="M1.65,-17.20L4.15,-17.20L10.25,0.00L7.75,0.00z"/><path d="M14.50,-17.20L15.90,-17.20L9.70,0.00L8.30,0.00z"/><rect x="0.00" y="-17.20" width="3.20" height="1.40"/><rect x="0.00" y="-1.40" width="5.30" height="1.40"/><rect x="14.80" y="-17.20" width="3.80" height="1.40"/><rect x="12.80" y="-1.40" width="5.80" height="1.40"/></g>
<g transform="translate(92.60,7.50)"><path d="M6.89,-4.50H0.92" fill="none" stroke="#000" stroke-width="1.40" stroke-linecap="butt" stroke-linejoin="round"/><path d="M6.89,-4.50C6.86,-6.28 5.64,-7.04 3.97,-7.04C2.14,-7.04 0.92,-5.67 0.92,-4.00C0.92,-2.33 2.14,-0.96 3.97,-0.96C5.49,-0.96 6.71,-1.87 7.01,-2.78" fill="none" stroke="#000" stroke-width="1.85" stroke-linecap="butt" stroke-linejoin="round"/></g>
<g transform="translate(102.10,7.50)"><path d="M6.21,-5.22C5.78,-6.36 4.92,-6.79 3.78,-6.79C2.07,-6.79 0.92,-5.51 0.92,-3.93C0.92,-2.36 2.07,-1.08 3.78,-1.08C5.21,-1.08 6.35,-1.93 6.64,-2.79" fill="none" stroke="#000" stroke-width="1.85" stroke-linecap="butt" stroke-linejoin="round"/><circle cx="5.84" cy="-5.13" r="1.15"/></g>
<g transform="translate(111.20,7.50)"><rect x="0.80" y="-10.99" width="2.20" height="10.99"/><rect x="0.00" y="-10.99" width="1.91" height="1.30"/><rect x="0.00" y="-1.30" width="4.06" height="1.30"/></g>
<g transform="translate(117.80,0.00)"><path d="M0.00,6.40L14.90,-21.30" fill="none" stroke="#000" stroke-width="1.68" stroke-linecap="butt"/></g>
<g transform="translate(135.80,0.00)"><rect x="1.70" y="-17.20" width="1.40" height="17.20"/><rect x="14.65" y="-17.20" width="2.50" height="17.20"/><path d="M1.65,-17.20L4.15,-17.20L10.25,0.00L7.75,0.00z"/><path d="M14.50,-17.20L15.90,-17.20L9.70,0.00L8.30,0.00z"/><rect x="0.00" y="-17.20" width="3.20" height="1.40"/><rect x="0.00" y="-1.40" width="5.30" height="1.40"/><rect x="14.80" y="-17.20" width="3.80" height="1.40"/><rect x="12.80" y="-1.40" width="5.80" height="1.40"/></g>
<g transform="translate(155.30,0.00)"><circle cx="6.10" cy="2.4" r="5.45" fill="none" stroke="#000" stroke-width="1.68"/><circle cx="6.1" cy="2.4" r="1.5"/></g>
<g transform="translate(171.30,0.00)"><path d="M0,-21.30Q12.00,-7.70 0,5.90L-0.9,5.40Q8.20,-7.70 -0.9,-20.80z"/></g>
</g>
<g id="yl" transform="translate(37.9,371.2) rotate(-90)">
<g transform="translate(0.00,0.00)"><rect x="1.75" y="-17.30" width="2.50" height="17.30"/><rect x="0.00" y="-17.30" width="3.00" height="1.40"/><rect x="0.00" y="-1.40" width="6.40" height="1.40"/></g>
<g transform="translate(9.20,0.00)"><path fill-rule="evenodd" d="M0.00,-6.55a6.80,6.75 0 1,0 13.60,0a6.80,6.75 0 1,0 -13.60,0zM2.50,-6.55a4.30,5.35 0 1,0 8.60,0a4.30,5.35 0 1,0 -8.60,0z"/></g>
<g transform="translate(25.50,0.00)"><path fill-rule="evenodd" d="M0.00,-7.50a5.40,5.20 0 1,0 10.80,0a5.40,5.20 0 1,0 -10.80,0zM2.50,-7.50a2.90,3.80 0 1,0 5.80,0a2.90,3.80 0 1,0 -5.80,0z"/><path d="M9.20,-11.00Q10.60,-12.60 12.40,-12.20" fill="none" stroke="#000" stroke-width="1.40" stroke-linecap="round" stroke-linejoin="round"/><circle cx="12.50" cy="-11.90" r="0.85"/><path d="M2.60,-3.20C0.40,-1.80 0.40,0.20 2.40,0.90" fill="none" stroke="#000" stroke-width="1.40" stroke-linecap="round" stroke-linejoin="round"/><path d="M0.20,3.35a6.20,2.50 0 1,0 12.40,0a6.20,2.50 0 1,0 -12.40,0z" fill="none" stroke="#000" stroke-width="1.54" stroke-linecap="round" stroke-linejoin="round"/></g>
<g transform="translate(43.20,7.70)"><rect x="1.58" y="-11.40" width="2.00" height="11.40"/><path d="M2.58,-11.10L0.18,-9.18" fill="none" stroke="#000" stroke-width="1.25" stroke-linecap="butt"/><rect x="0.12" y="-1.25" width="4.80" height="1.25"/></g>
<g transform="translate(50.50,7.70)"><path fill-rule="evenodd" d="M0.00,-5.79a4.15,5.92 0 1,0 8.30,0a4.15,5.92 0 1,0 -8.30,0zM2.00,-5.79a2.15,4.67 0 1,0 4.30,0a2.15,4.67 0 1,0 -4.30,0z"/></g>
<g transform="translate(63.20,0.00)"><path d="M6.00,-21.30Q-6.00,-7.70 6.00,5.90L6.90,5.40Q-2.20,-7.70 6.90,-20.80z"/></g>
<g transform="translate(72.50,0.00)"><rect x="1.15" y="-13.00" width="2.50" height="13.00"/><rect x="10.45" y="-9.00" width="2.50" height="9.00"/><rect x="19.75" y="-9.00" width="2.50" height="9.00"/><rect x="0.00" y="-13.00" width="2.40" height="1.40"/><rect x="0.00" y="-1.40" width="5.00" height="1.40"/><rect x="9.20" y="-1.40" width="5.00" height="1.40"/><rect x="18.50" y="-1.40" width="5.00" height="1.40"/><path d="M2.40,-9.30C3.60,-11.60 6.00,-12.60 8.00,-12.60C10.60,-12.60 11.70,-11.20 11.70,-8.80" fill="none" stroke="#000" stroke-width="1.95" stroke-linecap="butt" stroke-linejoin="round"/><path d="M11.70,-9.30C12.90,-11.60 15.30,-12.60 17.30,-12.60C19.90,-12.60 21.00,-11.20 21.00,-8.80" fill="none" stroke="#000" stroke-width="1.95" stroke-linecap="butt" stroke-linejoin="round"/></g>
<g transform="translate(98.80,7.90)"><rect x="0.34" y="-7.80" width="2.20" height="7.80"/><rect x="5.92" y="-5.40" width="2.20" height="5.40"/><rect x="11.50" y="-5.40" width="2.20" height="5.40"/><rect x="0.00" y="-7.80" width="1.44" height="1.30"/><rect x="0.00" y="-1.30" width="3.00" height="1.30"/><rect x="5.52" y="-1.30" width="3.00" height="1.30"/><rect x="11.10" y="-1.30" width="3.00" height="1.30"/><path d="M1.44,-5.58C2.16,-6.96 3.60,-7.56 4.80,-7.56C6.36,-7.56 7.02,-6.72 7.02,-5.28" fill="none" stroke="#000" stroke-width="1.75" stroke-linecap="butt" stroke-linejoin="round"/><path d="M7.02,-5.58C7.74,-6.96 9.18,-7.56 10.38,-7.56C11.94,-7.56 12.60,-6.72 12.60,-5.28" fill="none" stroke="#000" stroke-width="1.75" stroke-linecap="butt" stroke-linejoin="round"/></g>
<g transform="translate(114.00,7.90)"><rect x="5.50" y="-5.70" width="2.20" height="5.50"/><path d="M1.32,-5.76C1.56,-7.08 2.88,-7.62 4.08,-7.62C5.76,-7.62 6.60,-6.72 6.60,-5.16" fill="none" stroke="#000" stroke-width="1.75" stroke-linecap="butt" stroke-linejoin="round"/><circle cx="1.50" cy="-5.76" r="1.08"/><path d="M6.60,-4.44C4.80,-4.20 2.70,-3.96 1.68,-3.24C0.36,-2.34 0.54,-0.30 2.64,-0.30C4.20,-0.30 5.76,-1.08 6.60,-2.28" fill="none" stroke="#000" stroke-width="1.75" stroke-linecap="butt" stroke-linejoin="round"/><path d="M6.60,-1.08C6.72,-0.24 7.80,-0.12 9.00,-0.72" fill="none" stroke="#000" stroke-width="1.30" stroke-linecap="butt" stroke-linejoin="round"/></g>
<g transform="translate(124.30,7.90)"><path d="M0.70,-7.80L2.90,-7.80L8.54,0.00L6.34,0.00z"/><path d="M6.79,-7.80L8.09,-7.80L2.45,0.00L1.15,0.00z"/><rect x="0.00" y="-7.80" width="3.36" height="1.30"/><rect x="5.88" y="-7.80" width="3.36" height="1.30"/><rect x="0.00" y="-1.30" width="3.36" height="1.30"/><rect x="5.88" y="-1.30" width="3.36" height="1.30"/></g>
<g transform="translate(136.70,0.00)"><path d="M0.00,6.40L14.90,-21.30" fill="none" stroke="#000" stroke-width="1.68" stroke-linecap="butt"/></g>
<g transform="translate(154.70,0.00) scale(0.92,1)"><rect x="1.70" y="-17.20" width="1.40" height="17.20"/><rect x="14.65" y="-17.20" width="2.50" height="17.20"/><path d="M1.65,-17.20L4.15,-17.20L10.25,0.00L7.75,0.00z"/><path d="M14.50,-17.20L15.90,-17.20L9.70,0.00L8.30,0.00z"/><rect x="0.00" y="-17.20" width="3.20" height="1.40"/><rect x="0.00" y="-1.40" width="5.30" height="1.40"/><rect x="14.80" y="-17.20" width="3.80" height="1.40"/><rect x="12.80" y="-1.40" width="5.80" height="1.40"/></g>
<g transform="translate(174.20,0.00)"><circle cx="6.10" cy="2.4" r="5.45" fill="none" stroke="#000" stroke-width="1.68"/><circle cx="6.1" cy="2.4" r="1.5"/></g>
<g transform="translate(190.20,0.00)"><path d="M0,-21.30Q12.00,-7.70 0,5.90L-0.9,5.40Q8.20,-7.70 -0.9,-20.80z"/></g>
</g>
<g id="an" transform="translate(155.55,227.65) rotate(-61.76) skewX(-5)">
<g transform="translate(0.00,0.00)"><rect x="0.68" y="-9.10" width="2.00" height="9.10"/><rect x="7.19" y="-6.30" width="2.00" height="6.30"/><rect x="13.70" y="-6.30" width="2.00" height="6.30"/><rect x="0.00" y="-9.10" width="1.68" height="1.15"/><rect x="0.00" y="-1.15" width="3.50" height="1.15"/><rect x="6.44" y="-1.15" width="3.50" height="1.15"/><rect x="12.95" y="-1.15" width="3.50" height="1.15"/><path d="M1.68,-6.51C2.52,-8.12 4.20,-8.82 5.60,-8.82C7.42,-8.82 8.19,-7.84 8.19,-6.16" fill="none" stroke="#000" stroke-width="1.57" stroke-linecap="butt" stroke-linejoin="round"/><path d="M8.19,-6.51C9.03,-8.12 10.71,-8.82 12.11,-8.82C13.93,-8.82 14.70,-7.84 14.70,-6.16" fill="none" stroke="#000" stroke-width="1.57" stroke-linecap="butt" stroke-linejoin="round"/></g>
<g transform="translate(18.20,5.90) scale(0.93,1)"><rect x="0.20" y="-6.24" width="1.90" height="6.24"/><rect x="4.67" y="-4.32" width="1.90" height="4.32"/><rect x="9.13" y="-4.32" width="1.90" height="4.32"/><rect x="0.00" y="-6.24" width="1.15" height="1.15"/><rect x="0.00" y="-1.15" width="2.40" height="1.15"/><rect x="4.42" y="-1.15" width="2.40" height="1.15"/><rect x="8.88" y="-1.15" width="2.40" height="1.15"/><path d="M1.15,-4.46C1.73,-5.57 2.88,-6.05 3.84,-6.05C5.09,-6.05 5.62,-5.38 5.62,-4.22" fill="none" stroke="#000" stroke-width="1.52" stroke-linecap="butt" stroke-linejoin="round"/><path d="M5.62,-4.46C6.19,-5.57 7.34,-6.05 8.30,-6.05C9.55,-6.05 10.08,-5.38 10.08,-4.22" fill="none" stroke="#000" stroke-width="1.52" stroke-linecap="butt" stroke-linejoin="round"/></g>
<g transform="translate(29.30,5.90) scale(0.93,1)"><rect x="4.33" y="-4.56" width="1.90" height="4.36"/><path d="M1.06,-4.61C1.25,-5.66 2.30,-6.10 3.26,-6.10C4.61,-6.10 5.28,-5.38 5.28,-4.13" fill="none" stroke="#000" stroke-width="1.52" stroke-linecap="butt" stroke-linejoin="round"/><circle cx="1.20" cy="-4.61" r="0.95"/><path d="M5.28,-3.55C3.84,-3.36 2.16,-3.17 1.34,-2.59C0.29,-1.87 0.43,-0.24 2.11,-0.24C3.36,-0.24 4.61,-0.86 5.28,-1.82" fill="none" stroke="#000" stroke-width="1.52" stroke-linecap="butt" stroke-linejoin="round"/><path d="M5.28,-0.86C5.38,-0.19 6.24,-0.10 7.20,-0.58" fill="none" stroke="#000" stroke-width="1.15" stroke-linecap="butt" stroke-linejoin="round"/></g>
<g transform="translate(36.60,5.90) scale(0.93,1)"><path d="M0.49,-6.24L2.39,-6.24L6.90,0.00L5.00,0.00z"/><path d="M5.38,-6.24L6.53,-6.24L2.01,0.00L0.86,0.00z"/><rect x="0.00" y="-6.24" width="2.69" height="1.15"/><rect x="4.70" y="-6.24" width="2.69" height="1.15"/><rect x="0.00" y="-1.15" width="2.69" height="1.15"/><rect x="4.70" y="-1.15" width="2.69" height="1.15"/></g>
<g transform="translate(54.60,0.00)"><rect x="0.00" y="-8.85" width="10.37" height="1.26"/><rect x="0.00" y="-5.63" width="10.37" height="1.26"/></g>
<g transform="translate(76.60,0.00)"><rect x="1.15" y="-12.38" width="1.15" height="12.38"/><rect x="10.45" y="-12.38" width="2.00" height="12.38"/><path d="M1.09,-12.38L3.09,-12.38L7.48,0.00L5.48,0.00z"/><path d="M10.37,-12.38L11.52,-12.38L7.05,0.00L5.90,0.00z"/><rect x="0.00" y="-12.38" width="2.30" height="1.15"/><rect x="0.00" y="-1.15" width="3.82" height="1.15"/><rect x="10.66" y="-12.38" width="2.74" height="1.15"/><rect x="9.22" y="-1.15" width="4.18" height="1.15"/></g>
<g transform="translate(90.60,5.90) scale(0.93,1)"><path d="M5.41,-3.55H0.76" fill="none" stroke="#000" stroke-width="1.15" stroke-linecap="butt" stroke-linejoin="round"/><path d="M5.41,-3.55C5.39,-4.94 4.44,-5.53 3.14,-5.53C1.71,-5.53 0.76,-4.47 0.76,-3.16C0.76,-1.86 1.71,-0.79 3.14,-0.79C4.32,-0.79 5.27,-1.50 5.51,-2.21" fill="none" stroke="#000" stroke-width="1.52" stroke-linecap="butt" stroke-linejoin="round"/></g>
<g transform="translate(96.90,5.90) scale(0.93,1)"><path d="M4.97,-4.18C4.63,-5.09 3.95,-5.44 3.04,-5.44C1.67,-5.44 0.76,-4.41 0.76,-3.16C0.76,-1.91 1.67,-0.88 3.04,-0.88C4.18,-0.88 5.09,-1.57 5.31,-2.25" fill="none" stroke="#000" stroke-width="1.52" stroke-linecap="butt" stroke-linejoin="round"/><circle cx="4.68" cy="-4.12" r="0.95"/></g>
<g transform="translate(103.00,5.90) scale(0.93,1)"><rect x="0.55" y="-8.65" width="1.90" height="8.65"/><rect x="0.00" y="-8.65" width="1.50" height="1.15"/><rect x="0.00" y="-1.15" width="3.20" height="1.15"/></g>
</g>
</svg></body></html>
